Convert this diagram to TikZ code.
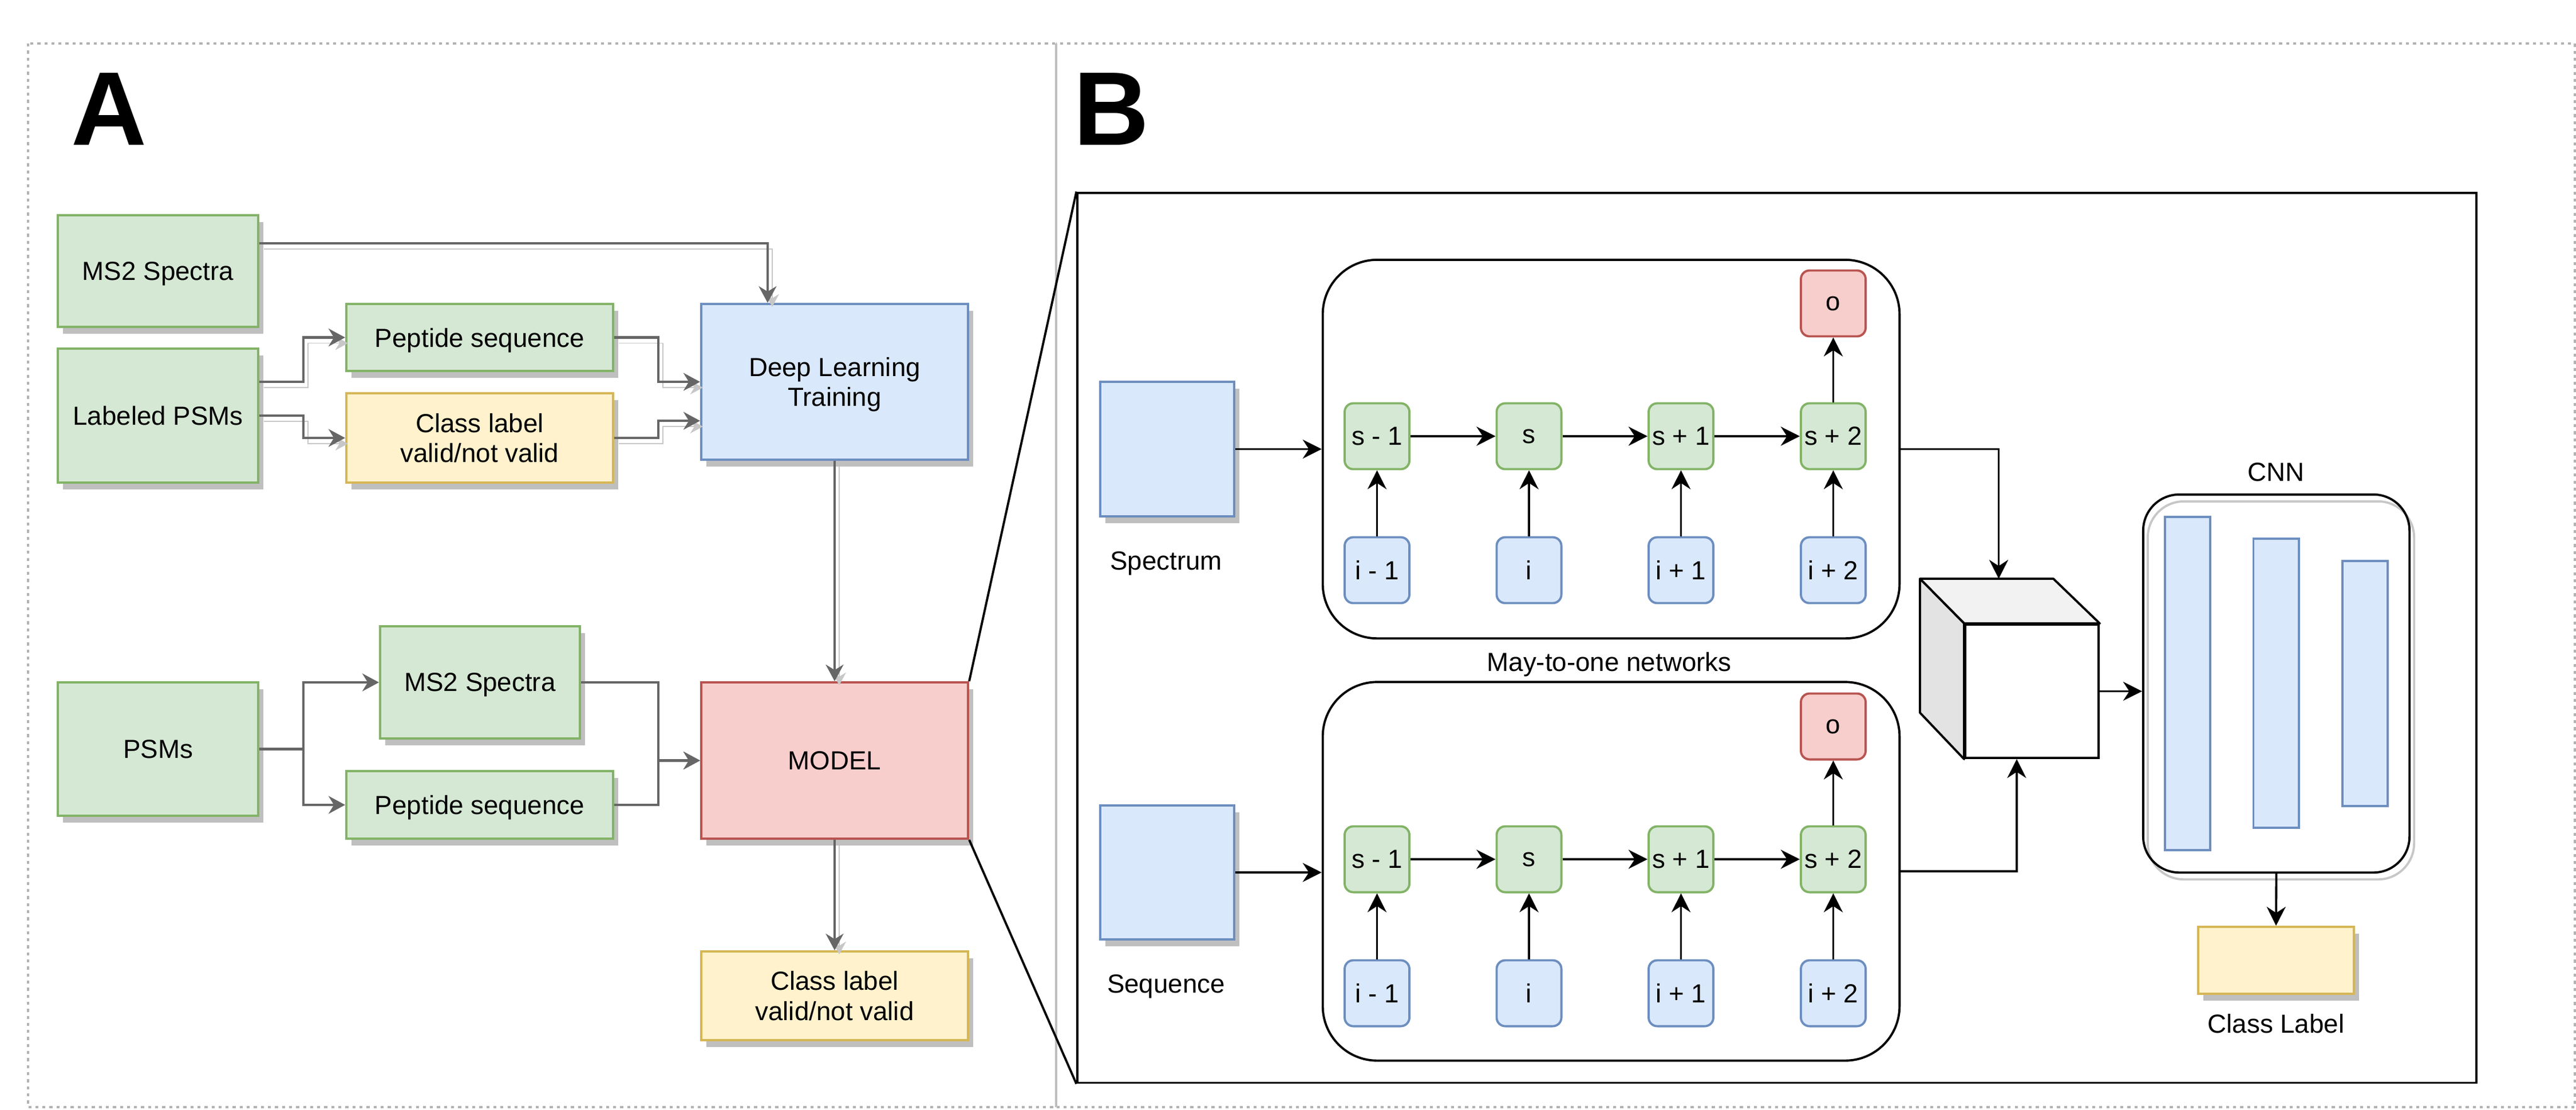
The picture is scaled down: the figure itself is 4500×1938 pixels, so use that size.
\documentclass[tikz,border=0pt]{standalone}
\usepackage{fontspec}
\setmainfont{Liberation Sans}
\usetikzlibrary{arrows.meta,shadows}
\definecolor{greenfill} {HTML}{D5E8D4}
\definecolor{greenline} {HTML}{82B366}
\definecolor{bluefill}  {HTML}{DAE8FC}
\definecolor{blueline}  {HTML}{6C8EBF}
\definecolor{yellowfill}{HTML}{FFF2CC}
\definecolor{yellowline}{HTML}{D6B656}
\definecolor{redfill}   {HTML}{F8CECC}
\definecolor{redline}   {HTML}{B85450}
\definecolor{connline}  {HTML}{666666}
\definecolor{cubetop}   {HTML}{F2F2F2}
\definecolor{cubeside}  {HTML}{E3E3E3}
\tikzset{%
  block/.style = {
    fill = #1fill,
    draw = #1line,
    line width = 1.1pt,
    inner sep = 0pt,
    align = center,
    drop shadow = {shadow xshift = 0.09cm, shadow yshift = -0.12cm,
                   fill = black!25, opacity = 1},
  },
  cell/.style = {
    rounded corners = 0.15cm,
    fill = #1fill,
    draw = #1line,
    line width = 1.1pt,
    minimum width = 1.13cm,
    minimum height = 1.15cm,
    inner sep = 0pt,
  },
  bar/.style = {
    fill = bluefill,
    draw = blueline,
    line width = 1.1pt,
    minimum width = 0.79cm,
    inner sep = 0pt,
  },
  net/.style = {
    draw,
    line width = 1.1pt,
    rounded corners = 0.95cm,
    minimum width = 10.07cm,
    minimum height = 6.61cm,
  },
  conn/.style = {
    -{Stealth[length = 0.29cm, width = 0.31cm]},
    draw = connline,
    line width = 1.2pt,
  },
  ghost/.style = {
    general shadow = {draw = black!22, shadow xshift = 0.08cm, shadow yshift = -0.1cm},
  },
  arrow/.style = {
    -{Stealth[length = 0.33cm, width = 0.33cm]},
    line width = #1,
    draw = black,
  },
  arrow/.default = {1.1pt},
  frame/.style = {
    draw = black!30,
    line width = 0.9pt,
    dash pattern = on 1.5pt off 2pt,
  },
}

\begin{document}
\begin{tikzpicture}[
    x = 0.01cm, y = -0.01cm,
    every node/.append style = { font = \fontsize{13pt}{15pt}\selectfont, text depth = 0pt },
    letter/.style = { font = \fontsize{52pt}{60pt}\selectfont\bfseries },
  ]
  \useasboundingbox (0,0) rectangle (4500,1938);
  % panels
  \draw[frame] (49,76) rectangle (1845,1934);
  \draw[frame] (1845,76) rectangle (4498,1934);
  \draw[black!25, line width = 0.9pt] (1845,76) -- (1845,1934);
  \node[letter] (A) at (191,191) {A};
  \node[letter] (B) at (1942,191) {B};

  % panel A
  \node[block=green, minimum width=3.5cm, minimum height=1.95cm] (ms2a) at (276,473.5) {MS2 Spectra};
  \node[block=green, minimum width=3.5cm, minimum height=2.34cm] (lpsm) at (276,726) {Labeled PSMs};
  \node[block=green, minimum width=4.66cm, minimum height=1.17cm] (pep1) at (838,589.5) {Peptide sequence};
  \node[block=yellow, minimum width=4.66cm, minimum height=1.56cm] (cls1) at (838,765) {Class label\\valid/not valid};
  \node[block=blue, minimum width=4.66cm, minimum height=2.72cm] (dlt) at (1458,667) {Deep Learning\\Training};
  \node[block=green, minimum width=3.5cm, minimum height=2.33cm] (psms) at (276,1308.5) {PSMs};
  \node[block=green, minimum width=3.49cm, minimum height=1.96cm] (ms2b) at (838.5,1192) {MS2 Spectra};
  \node[block=green, minimum width=4.66cm, minimum height=1.18cm] (pep2) at (838,1406) {Peptide sequence};
  \node[block=red, minimum width=4.66cm, minimum height=2.73cm] (model) at (1458,1328.5) {MODEL};
  \node[block=yellow, minimum width=4.66cm, minimum height=1.55cm] (cls2) at (1458,1739.5) {Class label\\valid/not valid};

  \draw[conn, ghost] ([yshift=0.485cm]ms2a.east) -| ([xshift=-1.17cm]dlt.north);
  \draw[conn, ghost] ([yshift=0.59cm]lpsm.east) -- ++(77,0) |- (pep1.west);
  \draw[conn, ghost] (lpsm.east) -- ++(77,0) |- (cls1.west);
  \draw[conn, ghost] (pep1.east) -- ++(77,0) |- (dlt.west);
  \draw[conn, ghost] (cls1.east) -- ++(77,0) |- ([yshift=-0.68cm]dlt.west);
  \draw[conn, ghost] (dlt) -- (model);
  \draw[conn] (psms.east) -- ++(77,0) |- (ms2b.west);
  \draw[conn] (psms.east) -- ++(77,0) |- (pep2.west);
  \draw[conn] (ms2b.east) -- ++(135,0) |- (model.west);
  \draw[conn] (pep2.east) -- ++(77,0) |- (model.west);
  \draw[conn, ghost] (model) -- (cls2);

  % panel B
  \node[draw, line width=1.1pt, minimum width=24.42cm, minimum height=15.54cm] (inner) at (3104,1114) {};
  \draw[line width=1.1pt] (model.north east) -- (inner.north west);
  \draw[line width=1.1pt] (model.south east) -- (inner.south west);

  \node[block=blue, minimum width=2.34cm, minimum height=2.35cm] (spec) at (2039,784.5) {};
  \node[block=blue, minimum width=2.34cm, minimum height=2.34cm] (seq) at (2039,1524) {};
  \node (speclbl) at (2037,980) {Spectrum};
  \node (seqlbl) at (2037,1719) {Sequence};

  \node[net] (neta) at (2814.5,784.5) {};
  \node[net] (netb) at (2814.5,1522) {};
  \node (netlbl) at (2811,1156) {May-to-one networks};

  \foreach \n/\y in {a/762, b/1501} {
    \foreach \k/\x/\s/\i in {1/2405.5/s - 1/i - 1, 2/2671/s/i, 3/2936.5/s + 1/i + 1, 4/3202.5/s + 2/i + 2} {
      \node[cell=green] (s\n\k) at (\x,\y) {\s};
      \node[cell=blue] (i\n\k) at (\x,\y+234) {\i};
      \draw[arrow] (i\n\k) -- (s\n\k);
    }
    \node[cell=red] (o\n) at (3202.5,\y-232) {o};
    \draw[arrow=1.4pt] (s\n1) -- (s\n2);
    \draw[arrow=1.4pt] (s\n2) -- (s\n3);
    \draw[arrow=1.4pt] (s\n3) -- (s\n4);
    \draw[arrow] (s\n4) -- (o\n);
  }
  \draw[arrow] (spec.east) -- (spec.east -| neta.west);
  \draw[arrow] (seq.east) -- (seq.east -| netb.west);

  % cube
  \node[draw, fill=white, line width=1.1pt, minimum size=2.33cm, inner sep=0pt] (cube) at (3549.5,1207.5) {};
  \draw[line width=1.1pt, fill=cubetop, line join=round] (cube.north west) -- ++(-77,-78) -- ++(233,0) -- (cube.north east) -- cycle;
  \draw[line width=1.1pt, fill=cubeside, line join=round] (cube.north west) -- ++(-77,-78) -- ++(0,234) -- (cube.south west) -- cycle;
  \coordinate (cubetop) at ([shift={(-58,-78)}]cube.north);
  \draw[arrow] (neta.east) -| (cubetop);
  \draw[arrow] (netb.east) -| ([xshift=-0.265cm]cube.south);

  % CNN
  \node[draw, line width=1.1pt, rounded corners=0.63cm, minimum width=4.65cm, minimum height=6.6cm,
        general shadow={draw=black!22, shadow xshift=0.08cm, shadow yshift=-0.12cm}] (cnn) at (3976.5,1194) {};
  \node (cnnlbl) at (3976,825) {CNN};
  \node[bar, minimum height=5.82cm] (bar1) at (3821.5,1194) {};
  \node[bar, minimum height=5.05cm] (bar2) at (3976,1193.5) {};
  \node[bar, minimum height=4.28cm] (bar3) at (4131.5,1194) {};
  \draw[arrow] (cube.east) -- (cube.east -| cnn.west);

  \node[block=yellow, minimum width=2.72cm, minimum height=1.17cm] (lbl) at (3976,1677.5) {};
  \node (lbllbl) at (3976,1788) {Class Label};
  \draw[arrow] (cnn.south) -- (lbl.north);
\end{tikzpicture}
\end{document}
